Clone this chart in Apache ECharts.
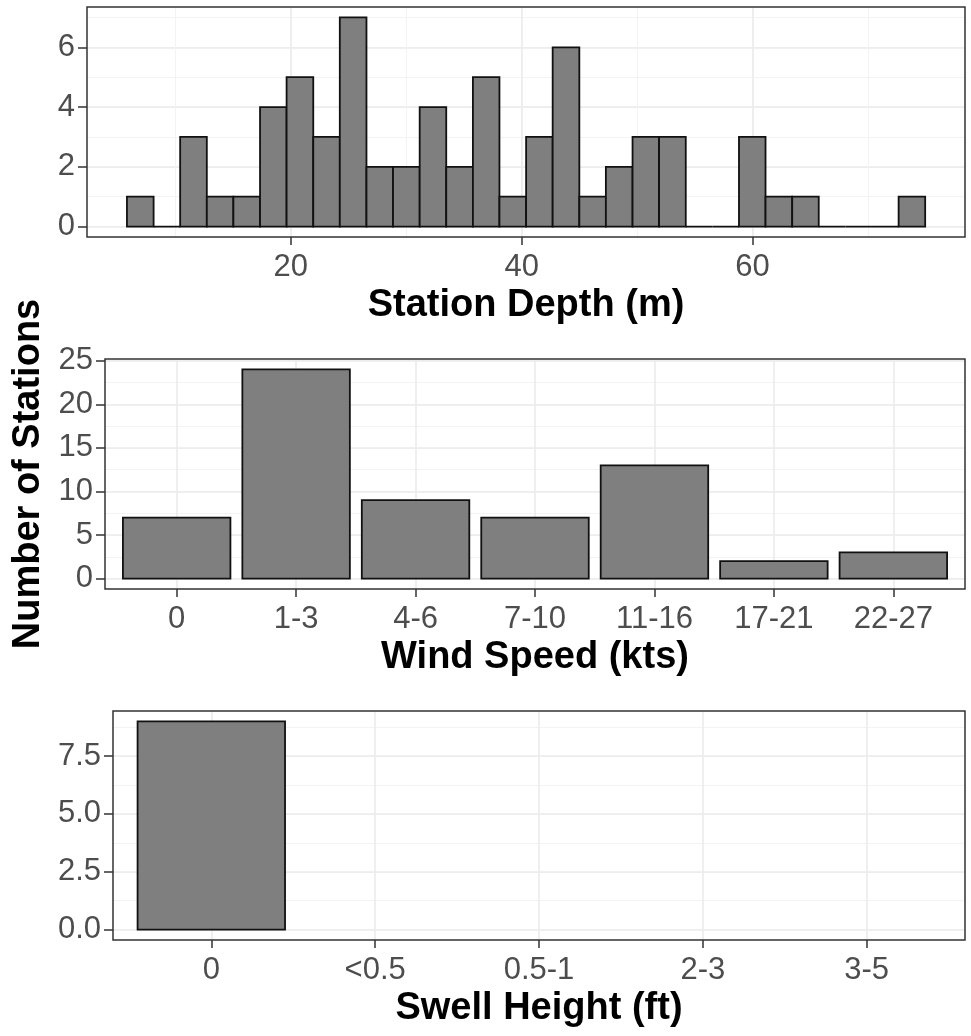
<!DOCTYPE html>
<html><head><meta charset="utf-8">
<script src="https://cdn.jsdelivr.net/npm/echarts@6/dist/echarts.min.js"></script>
<style>html,body{margin:0;padding:0;background:#fff}#c{width:971px;height:1036px}</style>
</head><body><div id="c"></div>
<script>
// ---- data ----
const depthBinEdges = [5.80, 8.11, 10.41, 12.72, 15.02, 17.33, 19.63, 21.94, 24.24, 26.55, 28.85,
  31.16, 33.46, 35.77, 38.07, 40.38, 42.68, 44.99, 47.29, 49.60, 51.90,
  54.21, 56.51, 58.82, 61.12, 63.43, 65.73, 68.04, 70.34, 72.65, 74.95];
const depthCounts = [1, 0, 3, 1, 1, 4, 5, 3, 7, 2, 2, 4, 2, 5, 1, 3, 6, 1, 2, 3, 3, 0, 0, 3, 1, 1, 0, 0, 0, 1];
const depthTicks = [20, 40, 60];
const depthCountTicks = [0, 2, 4, 6];

const windCategories = ['0', '1-3', '4-6', '7-10', '11-16', '17-21', '22-27'];
const windCounts = [7, 24, 9, 7, 13, 2, 3];
const windCountTicks = [0, 5, 10, 15, 20, 25];

const swellCategories = ['0', '<0.5', '0.5-1', '2-3', '3-5'];
const swellCounts = [9, null, null, null, null];
const swellCountTicks = [0, 2.5, 5, 7.5];

const xTitles = ['Station Depth (m)', 'Wind Speed (kts)', 'Swell Height (ft)'];
const yTitle = 'Number of Stations';

// ---- building ----
const FONT = '"Liberation Sans", Arial, Helvetica, sans-serif';
const grids = [], xAxes = [], yAxes = [], series = [];
const BAR_FILL = '#7F7F7F', BAR_STROKE = '#111111';

function addAxes(list, dim, gi, cfg) {
  const pos = dim === 'x' ? 'bottom' : 'left';
  const base = { gridIndex: gi, type: 'value', position: pos, min: cfg.min, max: cfg.max,
    axisLine: { show: false, onZero: false }, silent: true };
  const hidden = { axisTick: { show: false }, axisLabel: { show: false } };
  if (cfg.minor != null) {
    list.push(Object.assign({}, base, hidden, { minInterval: cfg.minor, maxInterval: cfg.minor,
      splitLine: { show: true, showMinLine: false, showMaxLine: false, lineStyle: { color: '#F3F3F3', width: 1 } } }));
  }
  list.push(Object.assign({}, base, hidden, { minInterval: cfg.major, maxInterval: cfg.major,
    splitLine: { show: true, showMinLine: false, showMaxLine: false, lineStyle: { color: '#EBEBEB', width: 1.6 } } }));
  const idx = list.length;
  const ax = Object.assign({}, base, {
    splitLine: { show: false },
    axisTick: { show: true, customValues: cfg.ticks, length: dim === 'x' ? 8 : 9, lineStyle: { color: '#333333', width: 1.5 } },
    axisLabel: { show: true, customValues: cfg.ticks, formatter: cfg.fmt, margin: cfg.margin,
      color: '#4D4D4D', fontSize: 31, fontFamily: FONT, showMinLabel: true, showMaxLabel: true }
  });
  if (cfg.name) {
    Object.assign(ax, { name: cfg.name, nameLocation: 'middle', nameGap: cfg.nameGap,
      nameRotate: dim === 'y' ? 90 : 0,
      nameTextStyle: { fontSize: 38, fontWeight: 'bold', color: '#000', fontFamily: FONT } });
  }
  list.push(ax);
  return idx;
}

function addGrid(left, top, height) {
  grids.push({ left: left, right: 6, top: top, height: height, show: true, z: 3,
    backgroundColor: 'transparent', borderColor: '#333333', borderWidth: 1.5, containLabel: false });
  return grids.length - 1;
}

function rectStyle() { return { fill: BAR_FILL, stroke: BAR_STROKE, lineWidth: 1.8 }; }

// Panel 1: histogram of station depth
(function () {
  const gi = addGrid(87, 7, 230);
  const xi = addAxes(xAxes, 'x', gi, { min: 2.34, max: 78.4, minor: 10, major: 20, ticks: depthTicks,
    fmt: v => String(v), margin: 15, name: xTitles[0], nameGap: 50 });
  const yi = addAxes(yAxes, 'y', gi, { min: -0.35, max: 7.35, minor: 1, major: 2, ticks: depthCountTicks,
    fmt: v => String(v), margin: 12 });
  series.push({ type: 'custom', xAxisIndex: xi, yAxisIndex: yi, z: 2,
    data: depthCounts.map((c, i) => [depthBinEdges[i], depthBinEdges[i + 1], c]),
    encode: { x: [0, 1], y: 2 },
    renderItem: function (params, api) {
      const a = api.coord([api.value(0), 0]);
      const b = api.coord([api.value(1), api.value(2)]);
      return { type: 'rect', shape: { x: a[0], y: b[1], width: b[0] - a[0], height: a[1] - b[1] }, style: rectStyle() };
    } });
})();

function catPanel(left, top, height, cats, counts, yCfg, title, yName) {
  const gi = addGrid(left, top, height);
  const n = cats.length;
  const xi = addAxes(xAxes, 'x', gi, { min: -0.6, max: n - 1 + 0.6, major: 1, ticks: cats.map((c, i) => i),
    fmt: v => cats[Math.round(v)], margin: 15, name: title, nameGap: 50 });
  const yc = Object.assign({ margin: 12 }, yCfg);
  if (yName) { yc.name = yName; yc.nameGap = 57; }
  const yi = addAxes(yAxes, 'y', gi, yc);
  const data = [];
  counts.forEach((c, i) => { if (c != null) data.push([i, c]); });
  series.push({ type: 'custom', xAxisIndex: xi, yAxisIndex: yi, z: 2, data: data,
    encode: { x: 0, y: 1 },
    renderItem: function (params, api) {
      const x = api.value(0), y = api.value(1);
      const a = api.coord([x - 0.45, 0]);
      const b = api.coord([x + 0.45, y]);
      return { type: 'rect', shape: { x: a[0], y: b[1], width: b[0] - a[0], height: a[1] - b[1] }, style: rectStyle() };
    } });
}

catPanel(105, 359, 230, windCategories, windCounts,
  { min: -1.2, max: 25.2, minor: 2.5, major: 5, ticks: windCountTicks, fmt: v => String(v) },
  xTitles[1], yTitle);

catPanel(113, 711, 229, swellCategories, swellCounts,
  { min: -0.45, max: 9.45, minor: 1.25, major: 2.5, ticks: swellCountTicks, fmt: v => v.toFixed(1) },
  xTitles[2], null);

const chart = echarts.init(document.getElementById('c'), null, { renderer: 'canvas' });
chart.setOption({
  animation: false,
  backgroundColor: '#FFFFFF',
  textStyle: { fontFamily: FONT },
  grid: grids, xAxis: xAxes, yAxis: yAxes, series: series
});
</script></body></html>
